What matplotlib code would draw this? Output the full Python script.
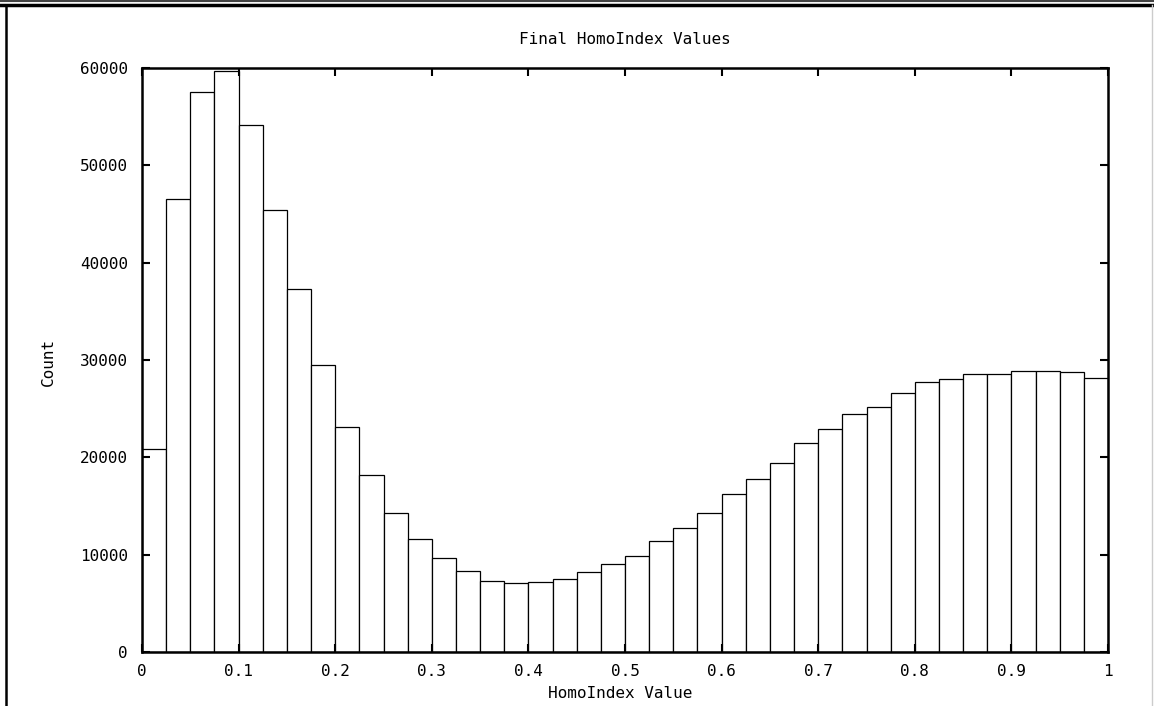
import numpy as np
import matplotlib
matplotlib.use("Agg")
import matplotlib.pyplot as plt
from matplotlib.lines import Line2D

# Histogram of final HomoIndex values: 40 bins over [0, 1]
bin_edges = np.linspace(0.0, 1.0, 41)
counts = [20900, 46500, 57500, 59700, 54100, 45400, 37300, 29500, 23100, 18200,
          14250, 11600, 9700, 8300, 7300, 7100, 7150, 7450, 8250, 9000,
          9900, 11400, 12700, 14300, 16200, 17800, 19450, 21500, 22900, 24500,
          25200, 26600, 27700, 28050, 28600, 28600, 28900, 28900, 28800, 28100]
x_ticks = [0, 0.1, 0.2, 0.3, 0.4, 0.5, 0.6, 0.7, 0.8, 0.9, 1]
x_tick_labels = ["0", "0.1", "0.2", "0.3", "0.4", "0.5", "0.6", "0.7", "0.8", "0.9", "1"]
y_ticks = [0, 10000, 20000, 30000, 40000, 50000, 60000]
y_tick_labels = ["0", "10000", "20000", "30000", "40000", "50000", "60000"]
title = "Final HomoIndex Values"
x_label = "HomoIndex Value"
y_label = "Count"

W, H = 1154, 706
fig = plt.figure(figsize=(W / 100, H / 100), dpi=100)
fig.patch.set_facecolor("white")
font = "DejaVu Sans Mono"
fs = 11.5

L, R, T, B = 142, 1108, 68, 652
ax = fig.add_axes([L / W, 1 - B / H, (R - L) / W, (B - T) / H])

widths = np.diff(bin_edges)
ax.bar(bin_edges[:-1], counts, width=widths, align="edge",
       facecolor="white", edgecolor="black", linewidth=0.9)

ax.set_xlim(0, 1)
ax.set_ylim(0, 60000)
ax.set_xticks(x_ticks)
ax.set_xticklabels(x_tick_labels, fontfamily=font, fontsize=fs)
ax.set_yticks(y_ticks)
ax.set_yticklabels(y_tick_labels, fontfamily=font, fontsize=fs)
ax.tick_params(direction="in", length=6, width=1.5, top=True, right=True,
               colors="black")
ax.tick_params(axis="x", pad=9)
ax.tick_params(axis="y", pad=10)
for s in ax.spines.values():
    s.set_linewidth(1.8)
    s.set_color("black")

fig.text(625 / W, 1 - 40 / H, title, ha="center", va="center",
         fontfamily=font, fontsize=fs)
fig.text(620 / W, 1 - 693 / H, x_label, ha="center", va="center",
         fontfamily=font, fontsize=fs)
fig.text(48 / W, 1 - 362 / H, y_label, ha="center", va="center",
         rotation=90, fontfamily=font, fontsize=fs)

# scanned page frame
fig.add_artist(Line2D([0, 1], [1 - 5 / H, 1 - 5 / H], transform=fig.transFigure,
                      color="black", linewidth=2.5))
fig.add_artist(Line2D([0, 1], [1 - 1 / H, 1 - 1 / H], transform=fig.transFigure,
                      color="#444444", linewidth=1.5))
fig.add_artist(Line2D([6 / W, 6 / W], [0, 1 - 5 / H], transform=fig.transFigure,
                      color="black", linewidth=1.8))
fig.add_artist(Line2D([1152 / W, 1152 / W], [0, 1 - 5 / H], transform=fig.transFigure,
                      color="#cccccc", linewidth=1.0))

fig.savefig("out.png", dpi=100, facecolor="white")
